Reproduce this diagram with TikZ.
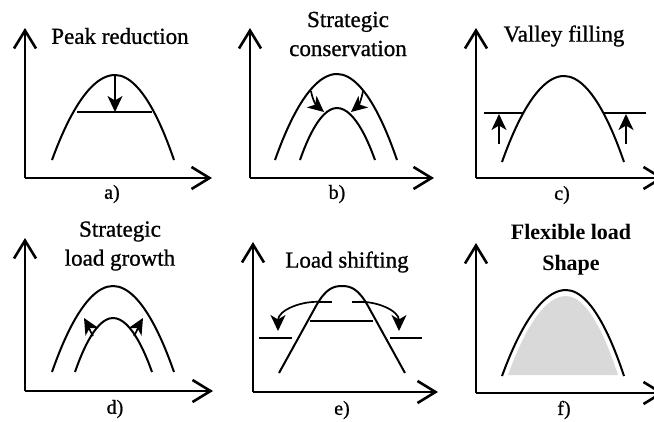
\documentclass[tikz,border=0pt]{standalone}
\usepackage{fontspec}
\setmainfont{Liberation Serif}
\newfontfamily\heavyserif{Liberation Serif}[FakeBold=0.9]
\newfontfamily\boldserif{Liberation Serif Bold}
\usetikzlibrary{arrows.meta}
\tikzset{
  axis/.style={line width=2.6pt, -{Straight Barb[length=18pt,width=22pt,line width=2.6pt]}},
  curve/.style={line width=2pt},
  thin/.style={line width=1.5pt},
  smallarrow/.style={line width=1.7pt, -{Stealth[length=16pt,width=15pt,inset=4.5pt]}},
  title/.style={font=\heavyserif\fontsize{23}{29}\selectfont, align=center, inner sep=0pt},
  lab/.style={font=\heavyserif\fontsize{20}{23}\selectfont, inner sep=0pt},
}
\begin{document}
\begin{tikzpicture}[x=1pt,y=-1pt]
\useasboundingbox (0,0) rectangle (654,421);
% ---------- a) ----------
\coordinate (ao) at (25,178); \coordinate (ay) at (25,28); \coordinate (ax) at (212,178);
\draw[axis] (ao) -- (ay); \draw[axis] (ao) -- (ax);
\coordinate (as) at (52,160); \coordinate (ap) at (115,75); \coordinate (ae) at (174,160);
\draw[curve] (as) parabola bend (ap) (ae);
\coordinate (al1) at (77,112); \coordinate (al2) at (152,112); \coordinate (at) at (115,112);
\draw[thin] (al1) -- (al2);
\draw[smallarrow] (ap) -- (at);
\node[title] (ta) at (120,36) {Peak reduction};
\node[lab] (la) at (112,194) {a)};
% ---------- b) ----------
\coordinate (bo) at (250,178); \coordinate (by) at (250,28); \coordinate (bx) at (434,178);
\draw[axis] (bo) -- (by); \draw[axis] (bo) -- (bx);
\draw[curve] (275,160) parabola bend (337,74) (397,160);
\draw[curve] (300,160) parabola bend (337,108) (375,160);
\coordinate (b1s) at (311,91); \coordinate (b1e) at (324,112);
\coordinate (b2s) at (363,91); \coordinate (b2e) at (351,112);
\draw[smallarrow] (b1s) to[out=-80,in=140] (b1e);
\draw[smallarrow] (b2s) to[out=-100,in=40] (b2e);
\node[title] (tb) at (348,34) {Strategic\\conservation};
\node[lab] (lb) at (337,194) {b)};
% ---------- c) ----------
\coordinate (co) at (476,178); \coordinate (cy) at (476,28); \coordinate (cx) at (664,178);
\draw[axis] (co) -- (cy); \draw[axis] (co) -- (cx);
\draw[curve] (502,162) parabola bend (564,76) (624,162);
\coordinate (cl1) at (484,113); \coordinate (cl2) at (524,113);
\coordinate (cr1) at (604,113); \coordinate (cr2) at (646,113);
\draw[thin] (cl1) -- (cl2); \draw[thin] (cr1) -- (cr2);
\coordinate (ca1) at (499,144); \coordinate (ca2) at (499,114);
\coordinate (cb1) at (626,144); \coordinate (cb2) at (626,114);
\draw[smallarrow] (ca1) -- (ca2); \draw[smallarrow] (cb1) -- (cb2);
\node[title] (tc) at (564,36) {Valley filling};
\node[lab] (lc) at (562,195) {c)};
% ---------- d) ----------
\coordinate (do) at (25,391); \coordinate (dy) at (25,238); \coordinate (dx) at (213,391);
\draw[axis] (do) -- (dy); \draw[axis] (do) -- (dx);
\draw[curve] (52,372) parabola bend (113,286) (174,372);
\draw[curve] (75,372) parabola bend (113,318) (152,372);
\coordinate (d1s) at (93,336); \coordinate (d1e) at (84,318);
\coordinate (d2s) at (134,336); \coordinate (d2e) at (143,318);
\draw[smallarrow] (d1s) to[out=120,in=-60] (d1e);
\draw[smallarrow] (d2s) to[out=60,in=-120] (d2e);
\node[title] (td) at (120,246) {Strategic\\load growth};
\node[lab] (ld) at (115,409) {d)};
% ---------- e) ----------
\coordinate (eo) at (253,392); \coordinate (ey) at (253,242); \coordinate (ex) at (438,392);
\draw[axis] (eo) -- (ey); \draw[axis] (eo) -- (ex);
\draw[curve] (279,373) -- (316,306) .. controls (326,288) and (334,286) .. (342,286)
   .. controls (350,286) and (358,288) .. (368,306) -- (405,373);
\coordinate (em1) at (310,321); \coordinate (em2) at (373,321);
\draw[thin] (em1) -- (em2);
\coordinate (et1) at (317,302); \coordinate (et2) at (332,302);
\coordinate (et3) at (352,302); \coordinate (et4) at (367,302);
\draw[thin] (et1) -- (et2); \draw[thin] (et3) -- (et4);
\coordinate (eb1) at (259,338); \coordinate (eb2) at (292,338);
\coordinate (eb3) at (390,338); \coordinate (eb4) at (422,338);
\draw[curve] (eb1) -- (eb2); \draw[curve] (eb3) -- (eb4);
\coordinate (ea1) at (322,302); \coordinate (ea2) at (278,331);
\coordinate (ea3) at (356,302); \coordinate (ea4) at (399,331);
\draw[smallarrow] (ea1) to[out=175,in=90] (ea2);
\draw[smallarrow] (ea3) to[out=5,in=90] (ea4);
\node[title] (te) at (347,262) {Load shifting};
\node[lab] (le) at (342,410) {e)};
% ---------- f) ----------
\coordinate (fo) at (476,393); \coordinate (fy) at (476,243); \coordinate (fx) at (664,393);
\fill[gray!30] (508,375) parabola bend (566,296) (618,375) -- cycle;
\draw[axis] (fo) -- (fy); \draw[axis] (fo) -- (fx);
\draw[curve] (502,376) parabola bend (566,290) (624,376);
\node[title, font=\boldserif\fontsize{22}{31}\selectfont] (tf) at (571,250) {Flexible load\\Shape};
\node[lab] (lf) at (564,410) {f)};
\end{tikzpicture}
\end{document}
